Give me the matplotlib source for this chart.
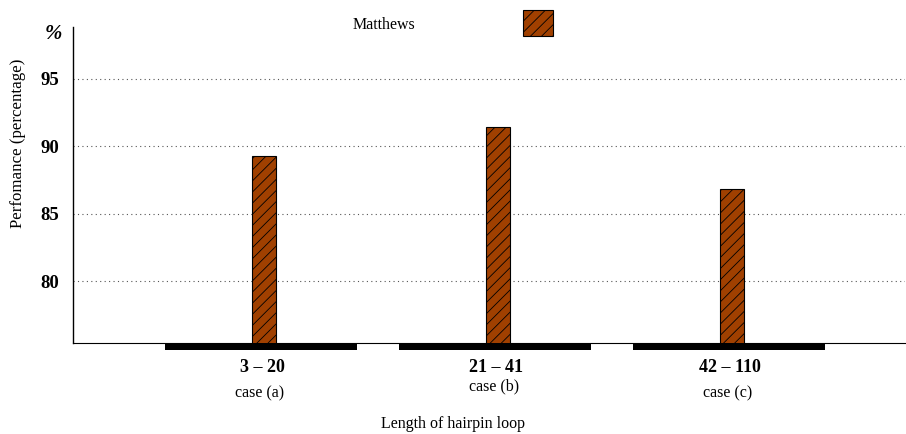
"""Performance of Matthews per hairpin loop length range."""
import matplotlib
matplotlib.use("Agg")
import matplotlib.pyplot as plt
from matplotlib.patches import Rectangle
import matplotlib.transforms as mtransforms

# data
ranges = ["3 \u2013 20", "21 \u2013 41", "42 \u2013 110"]
cases = ["case (a)", "case (b)", "case (c)"]
matthews = [89.3, 91.4, 86.8]
yticks = [80, 85, 90, 95]

plt.rcParams["font.family"] = ["Liberation Serif", "DejaVu Serif"]
plt.rcParams["hatch.linewidth"] = 0.6

fig = plt.figure(figsize=(9.06, 4.34), dpi=100)
ax = fig.add_axes([73 / 906, 1 - 343 / 434, 832 / 906, 316 / 434])

x = list(range(len(ranges)))
bar_color = "#A04000"
ax.bar([i - 0.002 for i in x], matthews, width=0.105, color=bar_color,
       edgecolor="black", hatch="///", linewidth=0.8, zorder=3)

ax.set_xlim(-0.818, 2.737)
ax.set_ylim(75.4, 98.86)

# thick black base strips under each group
base = 75.4
for i in x:
    ax.add_patch(Rectangle((i - 0.425, base - 0.5), 0.82, 0.5,
                           facecolor="black", edgecolor="none",
                           clip_on=False, zorder=4))

ax.set_yticks(yticks)
ax.set_yticklabels([str(v) for v in yticks], fontsize=13.5, fontweight="bold")
ax.set_xticks([])
ax.tick_params(axis="y", length=0, pad=10)
ax.yaxis.grid(True, linestyle=(0, (1, 3)), color="#555555", linewidth=0.8)
ax.set_axisbelow(True)
for s in ["top", "right"]:
    ax.spines[s].set_visible(False)
ax.spines["left"].set_linewidth(1.0)
ax.spines["bottom"].set_linewidth(0.8)

trans = mtransforms.blended_transform_factory(ax.transData, ax.transAxes)
case_y = [-0.158, -0.138, -0.158]
for i in x:
    ax.text(i - 0.01, -0.079, ranges[i], transform=trans, ha="center",
            va="center", fontsize=13, fontweight="bold")
    ax.text(i - 0.02, case_y[i], cases[i], transform=trans, ha="center",
            va="center", fontsize=11.5)

fig.text(453 / 906, 1 - 424 / 434, "Length of hairpin loop", ha="center",
         va="center", fontsize=11.5)
fig.text(18 / 906, 1 - 143 / 434, "Perfomance (percentage)", rotation=90,
         ha="center", va="center", fontsize=12.2)
fig.text(53 / 906, 1 - 34 / 434, "%", ha="center", va="center",
         fontsize=15, fontweight="bold", fontstyle="italic")

# legend
fig.text(384 / 906, 1 - 25 / 434, "Matthews", ha="center", va="center",
         fontsize=11.5)
fig.patches.append(Rectangle((523 / 906, 1 - 36 / 434), 30 / 906, 26 / 434,
                             transform=fig.transFigure, facecolor=bar_color,
                             edgecolor="black", hatch="///", linewidth=0.8))

fig.savefig("out.png", dpi=100)
